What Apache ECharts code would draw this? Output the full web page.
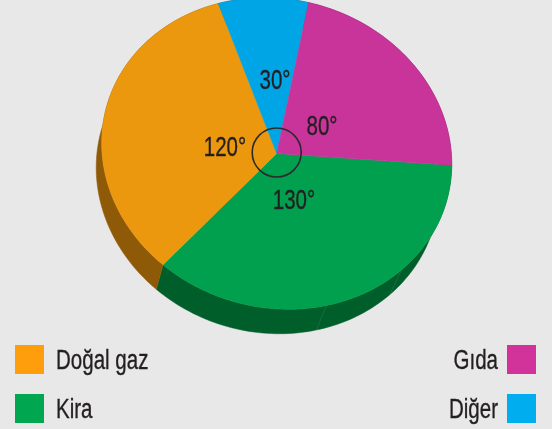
<!DOCTYPE html>
<html><head><meta charset="utf-8">
<style>html,body{margin:0;padding:0;background:#e8e8e8}#c{width:552px;height:429px}</style>
<script src="https://cdn.jsdelivr.net/npm/echarts@6/dist/echarts.min.js"></script>
</head><body><div id="c"></div>
<script>
// clockwise from the right-hand edge
const categories = ['Kira', 'Doğal gaz', 'Diğer', 'Gıda'];
const values = [130, 120, 30, 80];
const topColors = ['#00a04f', '#ec980f', '#00a5e5', '#c8349a'];
const sideColors = ['#005e2b', '#8f5a08', '#005e80', '#6e1c55'];
const legendColors = { 'Doğal gaz': '#ff9e0c', 'Kira': '#00a650', 'Gıda': '#d1339b', 'Diğer': '#00aeef' };
const angleLabels = ['130°', '120°', '30°', '80°'];
const kiraSeams = [44, 73];

const W = { cx: 276.7, cy: 153.5, r: 175, squash: 0.888, shear: 0.06, dx: -9, taper: -3.5, dy: 24.5 };
function warp(p) {
  return [p[0], W.cy + (p[1] - W.cy) * W.squash + W.shear * (p[0] - W.cx)];
}
function drop(p) {
  return [p[0] + W.dx + W.taper * (p[0] - W.cx) / W.r, p[1] + W.dy];
}
function arc(api, a0, a1) {
  const pts = [];
  const n = Math.ceil((a1 - a0) / 1.5);
  for (let i = 0; i <= n; i++) pts.push(warp(api.coord([1, a0 + (a1 - a0) * i / n])));
  return pts;
}
let cum = 0;
const series = categories.map((name, i) => {
  const start = cum; cum += values[i];
  return {
    type: 'custom', name, coordinateSystem: 'polar', silent: true,
    itemStyle: { color: legendColors[name] },
    data: [[1, start, cum]],
    encode: { radius: 0, angle: 1 },
    renderItem(params, api) {
      const a0 = api.value(1), a1 = api.value(2);
      const edge = arc(api, a0, a1);
      const lower = edge.slice().reverse().map(drop);
      const centre = warp(api.coord([0, a0]));
      const children = [
        { type: 'polygon', z2: 1, shape: { points: edge.concat(lower) }, style: { fill: sideColors[i], stroke: sideColors[i], lineWidth: 0.5 } },
        { type: 'polygon', z2: 5, shape: { points: [centre].concat(edge) }, style: { fill: topColors[i], stroke: topColors[i], lineWidth: 0.5 } }
      ];
      if (name === 'Kira') kiraSeams.forEach(s => {
        const p = warp(api.coord([1, s]));
        const q = drop(p);
        children.push({ type: 'line', z2: 2, shape: { x1: p[0], y1: p[1], x2: q[0], y2: q[1] }, style: { stroke: 'rgba(255,255,255,0.12)', lineWidth: 0.8 } });
      });
      return { type: 'group', children };
    }
  };
});
const font = '27px "Liberation Sans",sans-serif';
const textScale = 0.76;
const labelPos = [[294, 202], [225, 149], [275, 82], [322, 128]];
const graphicTexts = angleLabels.map((t, i) => ({
  type: 'text', x: labelPos[i][0], y: labelPos[i][1], z: 20, scaleX: textScale,
  style: { text: t, fill: '#231f20', stroke: '#231f20', lineWidth: 0.35, font, textAlign: 'center', textVerticalAlign: 'middle' }
}));
const legendRows = [
  ['Doğal gaz', 15, 345, 56, 'left'], ['Kira', 15, 394, 56, 'left'],
  ['Gıda', 507, 345, 498, 'right'], ['Diğer', 507, 394, 498, 'right']
];
const legendMarks = [];
legendRows.forEach(([name, bx, by, tx, align]) => {
  legendMarks.push({ type: 'rect', z: 20, x: bx, y: by, shape: { width: 29, height: 29 }, style: { fill: legendColors[name] } });
  legendMarks.push({ type: 'text', z: 20, x: tx, y: by + 17, scaleX: textScale,
    style: { text: name, fill: '#231f20', stroke: '#231f20', lineWidth: 0.35, font, textAlign: align, textVerticalAlign: 'middle' } });
});
const chart = echarts.init(document.getElementById('c'), null, { renderer: 'canvas' });
chart.setOption({
  backgroundColor: '#e8e8e8', animation: false,
  polar: { center: [W.cx, W.cy], radius: W.r },
  angleAxis: { type: 'value', min: 0, max: 360, startAngle: -0.5, clockwise: true, show: false },
  radiusAxis: { type: 'value', min: 0, max: 1, show: false },
  graphic: [
    { type: 'circle', x: W.cx, y: 152.5, z: 20, shape: { r: 24.5 }, style: { fill: 'none', stroke: '#2b2b2b', lineWidth: 1.6 } }
  ].concat(graphicTexts, legendMarks),
  series
});
</script></body></html>
